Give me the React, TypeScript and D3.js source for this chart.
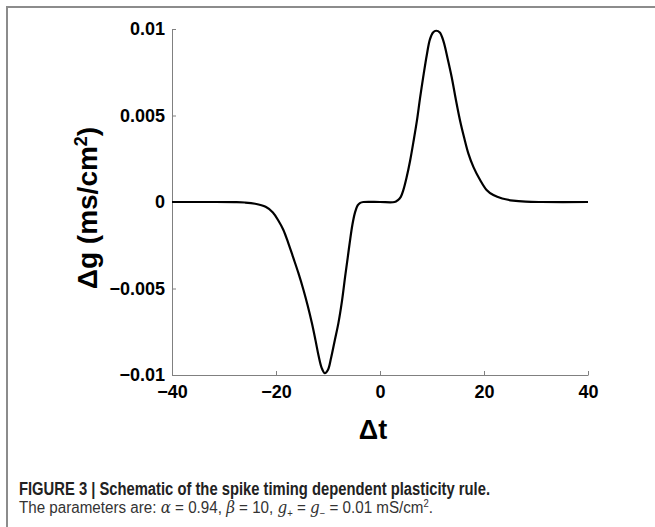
import React, { useEffect, useRef } from "react";
import * as d3 from "d3";

const deltaT = [-40, -32, -28, -26, -24, -22, -20.6, -19.5, -18.6, -17.6, -16.7, -15.7, -14.7, -13.9, -13.1, -12.4, -11.8, -11.2, -10.6, -10.0, -9.4, -8.7, -8.0, -7.3, -6.7, -6.2, -5.8, -5.3, -4.8, -4.3, -3.8, -3.2, 0, 2.8, 3.4, 4.0, 4.5, 5.1, 5.8, 6.5, 7.1, 7.7, 8.3, 9.0, 9.6, 10.2, 10.8, 11.5, 12.2, 13.0, 13.8, 14.6, 15.4, 16.2, 17.0, 18.0, 19.2, 20.5, 21.8, 23.5, 25.6, 28, 31, 40];
const deltaG = [0, 0, -0.00001, -0.00003, -0.0001, -0.00028, -0.0006, -0.0011, -0.0016, -0.0024, -0.0032, -0.0041, -0.0051, -0.006, -0.007, -0.008, -0.0089, -0.0096, -0.0099, -0.0097, -0.009, -0.008, -0.007, -0.0057, -0.0043, -0.0032, -0.0023, -0.0013, -0.0006, -0.0002, -0.00005, 0, 0, 0, 0.0001, 0.0003, 0.0007, 0.0014, 0.0024, 0.0036, 0.0047, 0.006, 0.0072, 0.0085, 0.0094, 0.0098, 0.0099, 0.0098, 0.0093, 0.0083, 0.0072, 0.0059, 0.0047, 0.0037, 0.0028, 0.002, 0.0013, 0.0007, 0.0004, 0.0002, 0.00008, 0.00002, 0, 0];

const xTicks = [-40, -20, 0, 20, 40];
const xTickLabels = ["\u221240", "\u221220", "0", "20", "40"];
const yTicks = [-0.01, -0.005, 0, 0.005, 0.01];
const yTickLabels = ["\u22120.01", "\u22120.005", "0", "0.005", "0.01"];

const FONT = "'Liberation Sans', Arial, Helvetica, sans-serif";
const MATH = "'DejaVu Serif', serif";

export default function App() {
  const xRef = useRef<SVGGElement>(null);
  const yRef = useRef<SVGGElement>(null);
  const x = d3.scaleLinear().domain([-40, 40]).range([172, 588]);
  const y = d3.scaleLinear().domain([-0.01, 0.01]).range([375, 29]);
  const pts = deltaT.map((t, i) => [t, deltaG[i]] as [number, number]);
  const line = d3
    .line<[number, number]>()
    .x((d) => x(d[0]))
    .y((d) => y(d[1]))
    .curve(d3.curveCatmullRom.alpha(0.5));

  useEffect(() => {
    const ax = d3
      .axisBottom(x)
      .tickValues(xTicks)
      .tickFormat((_d, i) => xTickLabels[i])
      .tickSizeInner(-4)
      .tickSizeOuter(0)
      .tickPadding(10);
    const gx = d3.select(xRef.current!);
    gx.call(ax as any);
    gx.attr("font-family", FONT).attr("font-size", 18).attr("font-weight", "bold");
    gx.select(".domain").attr("stroke", "#808080");
    gx.selectAll(".tick line").attr("stroke", "#808080");
    gx.selectAll(".tick text").attr("fill", "#000");

    const ay = d3
      .axisLeft(y)
      .tickValues(yTicks)
      .tickFormat((_d, i) => yTickLabels[i])
      .tickSizeInner(-4)
      .tickSizeOuter(0)
      .tickPadding(7);
    const gy = d3.select(yRef.current!);
    gy.call(ay as any);
    gy.attr("font-family", FONT).attr("font-size", 18).attr("font-weight", "bold");
    gy.select(".domain").attr("stroke", "#808080");
    gy.selectAll(".tick line").attr("stroke", "#808080");
    gy.selectAll(".tick text").attr("fill", "#000");
  }, []);

  return (
    <svg
      width={655}
      height={527}
      style={{ position: "absolute", left: 0, top: 0, background: "#fff" }}
      fontFamily={FONT}
    >
      <rect x={0} y={0} width={655} height={527} fill="#fff" />
      <path d="M7,527 V7 H655" fill="none" stroke="#8c8c8c" strokeWidth={2} />
      <g ref={xRef} transform="translate(0,375)" />
      <g ref={yRef} transform="translate(172,0)" />
      <path d={line(pts) || ""} fill="none" stroke="#000" strokeWidth={2.2} strokeLinejoin="round" />
      <text
        transform="translate(97,208) rotate(-90)"
        textAnchor="middle"
        fontSize={28}
        fontWeight="bold"
        fill="#000"
      >
        Δg (ms/cm<tspan baselineShift="super" fontSize={18}>2</tspan>)
      </text>
      <text x={373} y={439} textAnchor="middle" fontSize={27} fontWeight="bold" fill="#000">
        Δt
      </text>
      <text x={19} y={495} fontSize={18} fontWeight="bold" fill="#222" textLength={471} lengthAdjust="spacingAndGlyphs">
        FIGURE 3 | Schematic of the spike timing dependent plasticity rule.
      </text>
      <text x={19} y={513} fontSize={16} fill="#333" textLength={414} lengthAdjust="spacingAndGlyphs">
        The parameters are: <tspan fontStyle="italic" fontFamily={MATH}>α</tspan> = 0.94,{" "}
        <tspan fontStyle="italic" fontFamily={MATH}>β</tspan> = 10,{" "}
        <tspan fontStyle="italic" fontFamily={MATH}>g</tspan>
        <tspan fontSize={10} dy={4}>+</tspan>
        <tspan dy={-4}> = </tspan>
        <tspan fontStyle="italic" fontFamily={MATH}>g</tspan>
        <tspan fontSize={10} dy={4}>−</tspan>
        <tspan dy={-4}> = 0.01 mS/cm</tspan>
        <tspan fontSize={10} dy={-6}>2</tspan>
        <tspan dy={6}>.</tspan>
      </text>
    </svg>
  );
}
